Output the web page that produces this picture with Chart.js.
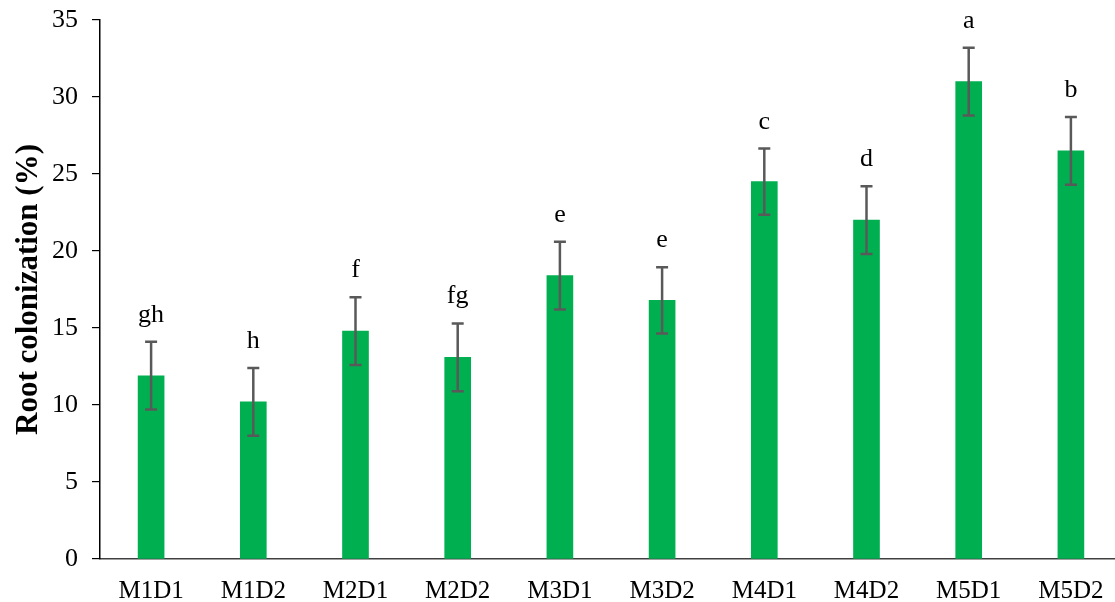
<!DOCTYPE html>
<html>
<head>
<meta charset="utf-8">
<script src="https://cdn.jsdelivr.net/npm/chart.js@4/dist/chart.umd.min.js"></script>
<style>
html,body{margin:0;padding:0;background:#fff;overflow:hidden;}
#wrap{width:1125px;height:602px;}
</style>
</head>
<body>
<div id="wrap"><canvas id="c" width="1125" height="602"></canvas></div>
<script>
const categories = ["M1D1","M1D2","M2D1","M2D2","M3D1","M3D2","M4D1","M4D2","M5D1","M5D2"];
const colonization = [11.9, 10.2, 14.8, 13.1, 18.4, 16.8, 24.5, 22.0, 31.0, 26.5];
const errors = [2.2, 2.2, 2.2, 2.2, 2.2, 2.15, 2.15, 2.2, 2.2, 2.2];
const letters = ["gh","h","f","fg","e","e","c","d","a","b"];
const yTicks = [0,5,10,15,20,25,30,35];

const FONT = "'Liberation Serif','Times New Roman',serif";

const errorBarPlugin = {
  id: 'errorBars',
  afterDatasetsDraw(chart) {
    const ctx = chart.ctx;
    const meta = chart.getDatasetMeta(0);
    const y = chart.scales.y;
    ctx.save();
    ctx.strokeStyle = '#595959';
    ctx.lineWidth = 2.5;
    meta.data.forEach((bar, i) => {
      const v = colonization[i], e = errors[i];
      const yt = y.getPixelForValue(v + e);
      const yb = y.getPixelForValue(v - e);
      const x = bar.x;
      const cap = 6;
      ctx.beginPath();
      ctx.moveTo(x, yt); ctx.lineTo(x, yb);
      ctx.moveTo(x - cap, yt); ctx.lineTo(x + cap, yt);
      ctx.moveTo(x - cap, yb); ctx.lineTo(x + cap, yb);
      ctx.stroke();
      ctx.fillStyle = '#000';
      ctx.font = '26px ' + FONT;
      ctx.textAlign = 'center';
      ctx.textBaseline = 'alphabetic';
      ctx.fillText(letters[i], x, yt - 20);
    });
    ctx.restore();
  }
};

new Chart(document.getElementById('c'), {
  type: 'bar',
  data: {
    labels: categories,
    datasets: [{
      data: colonization,
      backgroundColor: '#00B050',
      borderWidth: 0,
      barThickness: 26
    }]
  },
  options: {
    responsive: false,
    animation: false,
    layout: { padding: { top: 20, right: 3, left: 0, bottom: 0 } },
    plugins: { legend: { display: false }, tooltip: { enabled: false } },
    scales: {
      x: {
        grid: { display: false, drawTicks: false },
        border: { display: true, color: '#404040', width: 1.5 },
        ticks: { color: '#000', font: { family: FONT, size: 25 }, padding: 17, maxRotation: 0 },
        afterFit(s) { s.height = 43; s.paddingLeft = 0; s.paddingRight = 0; }
      },
      y: {
        min: 0, max: 35,
        afterBuildTicks(s) { s.ticks = yTicks.map(v => ({ value: v })); },
        grid: { display: true, drawOnChartArea: false, drawTicks: true, tickLength: 8, color: '#000', lineWidth: 1.2 },
        border: { display: true, color: '#000', width: 1.5 },
        ticks: { color: '#000', font: { family: FONT, size: 26 }, padding: 14 },
        title: {
          display: true,
          text: 'Root colonization (%)',
          color: '#000',
          font: { family: FONT, size: 31, weight: 'bold' },
          padding: { top: 10, bottom: 0 }
        },
        afterFit(s) { s.width = 100; s.paddingTop = 0; s.paddingBottom = 0; }
      }
    }
  },
  plugins: [errorBarPlugin]
});
</script>
</body>
</html>
